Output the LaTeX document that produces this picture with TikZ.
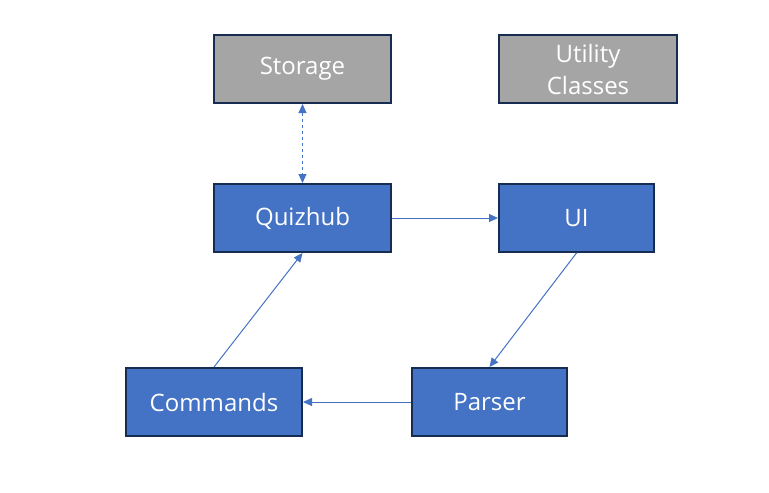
\documentclass[tikz,border=0pt]{standalone}
\usepackage{fontspec}
\setmainfont{Open Sans}
\usetikzlibrary{arrows.meta}
\definecolor{boxblue}{HTML}{4472C4}
\definecolor{boxgray}{HTML}{A5A5A5}
\definecolor{boxedge}{HTML}{172C51}
\tikzset{
  box/.style={draw=boxedge, line width=2pt, text=white, align=center, inner sep=0pt,
    font=\fontsize{24}{32}\selectfont},
  bluebox/.style={box, fill=boxblue},
  graybox/.style={box, fill=boxgray},
  conn/.style={draw=boxblue, line width=1pt, -{Triangle[length=9pt,width=8pt]}},
}
\begin{document}
\begin{tikzpicture}[x=1pt,y=-1pt]
\useasboundingbox (0,0) rectangle (769,493);
\node[graybox, minimum width=177pt, minimum height=68pt] (storage) at (302.5,69) {Storage};
\node[graybox, minimum width=178pt, minimum height=68pt] (utility) at (588,69) {Utility\\Classes};
\node[bluebox, minimum width=177pt, minimum height=68pt] (quizhub) at (302.5,218) {Quizhub};
\node[bluebox, minimum width=155pt, minimum height=68pt] (ui) at (576.5,218) {UI};
\node[bluebox, minimum width=176pt, minimum height=68pt] (commands) at (214,402) {Commands};
\node[bluebox, minimum width=155pt, minimum height=68pt] (parser) at (489.5,402) {Parser};
\draw[conn, dashed, {Triangle[length=9pt,width=8pt]}-{Triangle[length=9pt,width=8pt]}] (storage.south) -- (quizhub.north);
\draw[conn] (quizhub.east) -- (ui.west);
\draw[conn] (ui.south) -- (parser.north);
\draw[conn] (commands.north) -- (quizhub.south);
\draw[conn] (parser.west) -- (commands.east);
\end{tikzpicture}
\end{document}
